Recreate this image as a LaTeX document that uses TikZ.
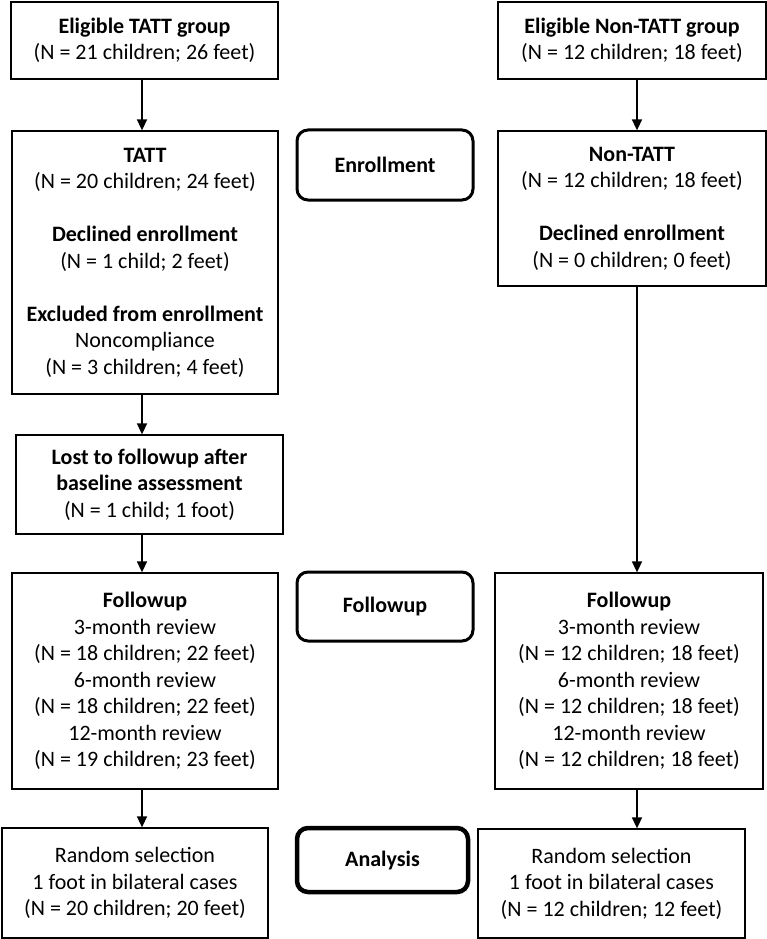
\documentclass[tikz,border=0pt]{standalone}
\usepackage{fontspec}
\setmainfont{Carlito}
\usetikzlibrary{arrows.meta}
\begin{document}
\begin{tikzpicture}[x=1pt,y=-1pt,
  every node/.style={font=\fontsize{22}{26.5}\selectfont, align=center, inner sep=0pt},
  box/.style={draw, line width=1.3pt},
  stage/.style={draw, line width=3pt, rounded corners=11pt},
  arr/.style={line width=1.6pt, -{Triangle[width=10pt,length=11pt]}}]
\useasboundingbox (0,0) rectangle (767,939);
\coordinate (cl) at (142,0);
\coordinate (cr) at (637,0);
\node[box, minimum width=267pt, minimum height=77pt] (e1) at (144.5,40.5)
  {\textbf{Eligible TATT group}\\(N = 21 children; 26 feet)};
\node[box, minimum width=268pt, minimum height=77pt] (e2) at (632,40.5)
  {\textbf{Eligible Non-TATT group}\\(N = 12 children; 18 feet)};
\node[box, minimum width=266pt, minimum height=263pt] (t1) at (145,262.5)
  {\textbf{TATT}\\(N = 20 children; 24 feet)\\[26.5pt]\textbf{Declined enrollment}\\(N = 1 child; 2 feet)\\[26.5pt]\textbf{Excluded from enrollment}\\Noncompliance\\(N = 3 children; 4 feet)};
\node[box, minimum width=268pt, minimum height=155pt] (n1) at (632,208.5)
  {\textbf{Non-TATT}\\(N = 12 children; 18 feet)\\[26.5pt]\textbf{Declined enrollment}\\(N = 0 children; 0 feet)};
\node[box, minimum width=267pt, minimum height=99pt] (lost) at (149.5,484.5)
  {\textbf{Lost to followup after}\\\textbf{baseline assessment}\\(N = 1 child; 1 foot)};
\node[box, minimum width=266pt, minimum height=216pt] (f1) at (145,681)
  {\textbf{Followup}\\3-month review\\(N = 18 children; 22 feet)\\6-month review\\(N = 18 children; 22 feet)\\12-month review\\(N = 19 children; 23 feet)};
\node[box, minimum width=268pt, minimum height=216pt] (f2) at (629,681)
  {\textbf{Followup}\\3-month review\\(N = 12 children; 18 feet)\\6-month review\\(N = 12 children; 18 feet)\\12-month review\\(N = 12 children; 18 feet)};
\node[box, minimum width=266pt, minimum height=110pt] (r1) at (135,883)
  {Random selection\\1 foot in bilateral cases\\(N = 20 children; 20 feet)};
\node[box, minimum width=267pt, minimum height=109pt] (r2) at (611.5,883.5)
  {Random selection\\1 foot in bilateral cases\\(N = 12 children; 12 feet)};
\node[stage, minimum width=176pt, minimum height=70pt] (enr) at (385,165) {\textbf{Enrollment}};
\node[stage, minimum width=176pt, minimum height=69pt] (fol) at (385,606.5) {\textbf{Followup}};
\node[stage, line width=4.5pt, minimum width=171pt, minimum height=64pt] (ana) at (382.5,860) {\textbf{Analysis}};
\draw[arr] (e1.south -| cl) -- (t1.north -| cl);
\draw[arr] (t1.south -| cl) -- (lost.north -| cl);
\draw[arr] (lost.south -| cl) -- (f1.north -| cl);
\draw[arr] (f1.south -| cl) -- (r1.north -| cl);
\draw[arr] (e2.south -| cr) -- (n1.north -| cr);
\draw[arr] (n1.south -| cr) -- (f2.north -| cr);
\draw[arr] (f2.south -| cr) -- (r2.north -| cr);
\end{tikzpicture}
\end{document}
